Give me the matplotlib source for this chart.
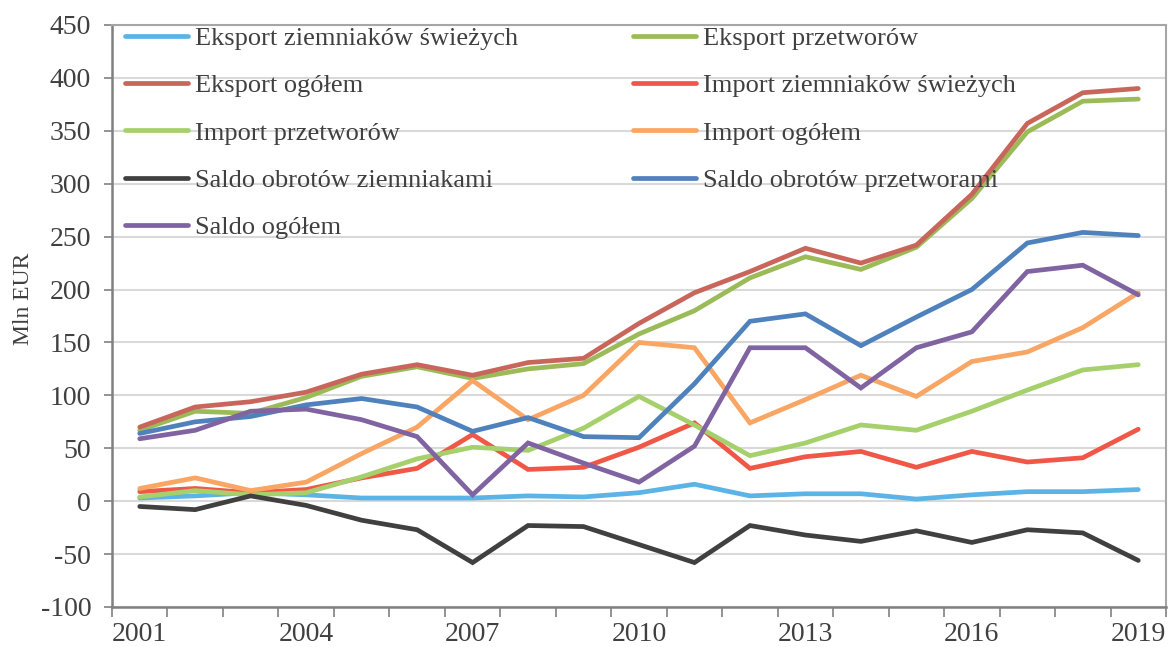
import matplotlib
matplotlib.use("Agg")
import matplotlib.pyplot as plt
import numpy as np

plt.rcParams['font.family'] = ['Liberation Serif', 'DejaVu Serif']
plt.rcParams['axes.unicode_minus'] = False

years = list(range(2001, 2020))

eksport_swieze = [3, 5, 8, 6, 3, 3, 3, 5, 4, 8, 16, 5, 7, 7, 2, 6, 9, 9, 11]
eksport_przetw = [67, 85, 83, 98, 118, 127, 116, 125, 130, 158, 180, 211, 231, 219, 240, 286, 349, 378, 380]
eksport_ogolem = [70, 89, 94, 103, 120, 129, 119, 131, 135, 168, 197, 217, 239, 225, 242, 290, 357, 386, 390]
import_swieze = [9, 12, 8, 11, 22, 31, 63, 30, 32, 51, 74, 31, 42, 47, 32, 47, 37, 41, 68]
import_przetw = [4, 10, 6, 8, 23, 40, 51, 48, 69, 99, 72, 43, 55, 72, 67, 85, 105, 124, 129]
import_ogolem = [12, 22, 10, 18, 45, 70, 114, 77, 100, 150, 145, 74, 96, 119, 99, 132, 141, 164, 197]
saldo_ziemn = [-5, -8, 5, -4, -18, -27, -58, -23, -24, -41, -58, -23, -32, -38, -28, -39, -27, -30, -56]
saldo_przetw = [64, 75, 80, 91, 97, 89, 66, 79, 61, 60, 111, 170, 177, 147, 174, 200, 244, 254, 251]
saldo_ogolem = [59, 67, 85, 87, 77, 61, 6, 55, 36, 18, 52, 145, 145, 107, 145, 160, 217, 223, 195]

series = [
    ("Eksport ziemniaków świeżych", eksport_swieze, "#5bb4e5"),
    ("Eksport przetworów", eksport_przetw, "#9bbb59"),
    ("Eksport ogółem", eksport_ogolem, "#c9665c"),
    ("Import ziemniaków świeżych", import_swieze, "#ef5846"),
    ("Import przetworów", import_przetw, "#a6d06c"),
    ("Import ogółem", import_ogolem, "#f9a563"),
    ("Saldo obrotów ziemniakami", saldo_ziemn, "#404040"),
    ("Saldo obrotów przetworami", saldo_przetw, "#4f81bd"),
    ("Saldo ogółem", saldo_ogolem, "#8064a2"),
]

fig = plt.figure(figsize=(11.68, 6.47), dpi=100)
ax = fig.add_axes([112 / 1168, 1 - 607 / 647, 1054 / 1168, 582 / 647])

x = np.arange(len(years))
handles = []
for name, vals, col in series:
    h, = ax.plot(x, vals, color=col, lw=3.4, solid_capstyle='round',
                 solid_joinstyle='miter', label=name)
    handles.append(h)

ax.set_xlim(-0.5, len(years) - 0.5)
ax.set_ylim(-100, 450)
ax.set_yticks(np.arange(-100, 451, 50))
ax.yaxis.grid(True, color='#d9d9d9', lw=1.5)
ax.set_axisbelow(True)

ax.set_xticks(x[::3])
ax.set_xticklabels([str(y) for y in years[::3]])
ax.set_xticks(np.arange(-0.5, len(years)), minor=True)
ax.tick_params(axis='x', which='major', length=0, pad=11,
               labelsize=20, labelcolor='#404040')
ax.tick_params(axis='x', which='minor', length=7, width=1.2,
               color='#808080', direction='out')
ax.tick_params(axis='y', length=6, width=1.2, color='#808080',
               labelsize=20, labelcolor='#404040', pad=9)

for s in ['left', 'bottom']:
    ax.spines[s].set_color('#808080')
    ax.spines[s].set_linewidth(1.8)
for s in ['top', 'right']:
    ax.spines[s].set_color('#a6a6a6')
    ax.spines[s].set_linewidth(1.5)

ax.set_ylabel("Mln EUR", fontsize=17, color='#404040')
ax.yaxis.set_label_coords(-0.074, 0.53)

leg_kw = dict(frameon=False, fontsize=19, handlelength=2.4,
              handletextpad=0.25, labelspacing=0.9, borderpad=0,
              borderaxespad=0, labelcolor='#404040', loc='upper left')
leg1 = ax.legend(handles[0::2], [h.get_label() for h in handles[0::2]],
                 bbox_to_anchor=(13 / 1054, 0.997), **leg_kw)
ax.add_artist(leg1)
ax.legend(handles[1::2], [h.get_label() for h in handles[1::2]],
          bbox_to_anchor=(521 / 1054, 0.997), **leg_kw)

fig.savefig("out.png", dpi=100)
